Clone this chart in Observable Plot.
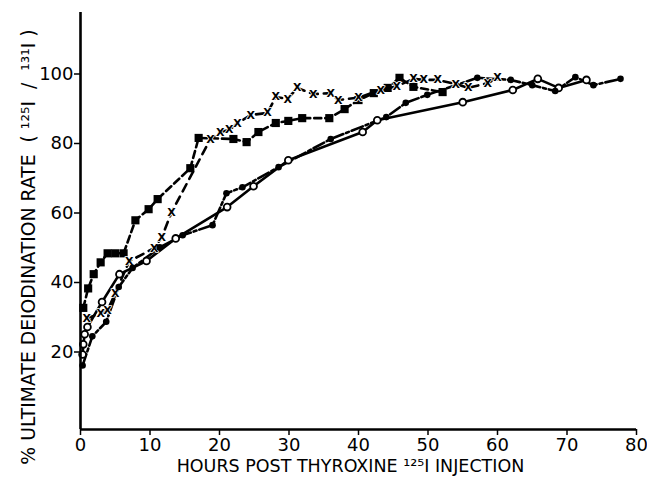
<!DOCTYPE html>
<html>
<head>
<meta charset="utf-8">
<script src="https://cdn.jsdelivr.net/npm/d3@7"></script>
<script src="https://cdn.jsdelivr.net/npm/@observablehq/plot@0.6"></script>
<style>
html,body{margin:0;padding:0;background:#fff;}
#chart{width:647px;height:481px;}
</style>
</head>
<body>
<div id="chart"></div>
<script>
// Filled squares series
const squareHours = [0.4, 1.1, 1.9, 2.9, 3.9, 5.0, 6.2, 7.9, 9.8, 11.1, 15.8, 17.0, 22.0, 23.9, 25.6, 28.1, 29.9, 31.9, 35.8, 38.0, 40.0, 42.2, 44.2, 45.9, 47.9, 52.1];
const squareRate  = [35.0, 40.6, 44.7, 48.1, 50.7, 50.7, 50.7, 60.2, 63.4, 66.3, 75.2, 83.9, 83.6, 82.7, 85.6, 88.2, 88.8, 89.6, 89.6, 92.2, 94.8, 96.8, 98.3, 101.2, 98.6, 97.1];
// X-marker series
const crossHours = [0.9, 2.9, 3.9, 5.0, 7.0, 10.6, 11.7, 13.1, 18.7, 20.1, 21.4, 22.6, 24.5, 26.9, 28.1, 29.8, 31.2, 33.5, 36.0, 37.1, 40.0, 43.2, 45.5, 47.9, 49.4, 51.4, 54.0, 55.8, 58.6, 60.0];
const crossRate  = [32.0, 33.4, 34.3, 39.2, 48.4, 52.2, 55.3, 62.5, 83.6, 85.6, 86.2, 88.2, 90.5, 91.1, 95.7, 95.1, 98.3, 96.5, 96.8, 94.8, 95.5, 97.7, 98.8, 100.9, 100.6, 100.6, 99.4, 98.3, 99.7, 101.2];
// Open circles series
const openHours = [0.3, 0.4, 0.6, 1.0, 3.1, 5.6, 9.5, 13.7, 21.1, 24.9, 29.9, 40.6, 42.7, 55.0, 62.2, 65.8, 68.8, 72.8];
const openRate  = [21.6, 24.5, 27.4, 29.5, 36.7, 44.7, 48.5, 55.0, 64.0, 70.0, 77.5, 85.6, 89.0, 94.2, 97.7, 100.9, 98.3, 100.6];
// Filled circles series
const dotHours = [0.3, 1.7, 3.7, 5.5, 7.5, 11.4, 14.7, 19.0, 21.0, 23.3, 28.5, 36.0, 44.0, 46.8, 49.9, 57.1, 61.9, 65.0, 68.3, 71.2, 73.8, 77.7];
const dotRate  = [18.4, 26.8, 31.0, 41.0, 46.5, 52.4, 55.9, 58.8, 68.0, 69.7, 75.5, 83.6, 89.9, 94.0, 96.3, 101.2, 100.6, 99.1, 97.4, 101.4, 99.1, 100.9];

const xTicks = [0, 10, 20, 30, 40, 50, 60, 70, 80];
const yTicks = [20, 40, 60, 80, 100];
const xTitle = "HOURS POST THYROXINE ¹²⁵I INJECTION";
const yTitle = "% ULTIMATE DEIODINATION RATE\u00a0\u00a0( ¹²⁵I\u00a0\u00a0/\u00a0\u00a0¹³¹I )";

const zip = (xs, ys) => xs.map((x, i) => ({x, y: ys[i]}));
const squares = zip(squareHours, squareRate);
const crosses = zip(crossHours, crossRate);
const opens = zip(openHours, openRate);
const dots = zip(dotHours, dotRate);

const font = "DejaVu Sans, sans-serif";

const plot = Plot.plot({
  width: 647,
  height: 481,
  marginLeft: 80,
  marginRight: 11,
  marginTop: 12,
  marginBottom: 52,
  style: {fontFamily: font, background: "#fff", color: "#000"},
  x: {domain: [0, 80]},
  y: {domain: [0, 120]},
  marks: [
    Plot.line(squares, {x: "x", y: "y", stroke: "#000", strokeWidth: 2.6, strokeDasharray: "7,4"}),
    Plot.line(crosses, {x: "x", y: "y", stroke: "#000", strokeWidth: 2.6, strokeDasharray: "8,6"}),
    Plot.line(opens, {x: "x", y: "y", stroke: "#000", strokeWidth: 2.6}),
    Plot.line(dots, {x: "x", y: "y", stroke: "#000", strokeWidth: 2.6, strokeDasharray: "12,3,3,3"}),
    Plot.dot(squares, {x: "x", y: "y", symbol: "square", r: 4.6, fill: "#000"}),
    Plot.text(crosses, {x: "x", y: "y", text: () => "X", fontSize: 11, fontWeight: "bold", fill: "#000", stroke: "#fff", strokeWidth: 1.5, paintOrder: "stroke"}),
    Plot.dot(opens, {x: "x", y: "y", r: 3.4, fill: "#fff", stroke: "#000", strokeWidth: 1.8}),
    Plot.dot(dots, {x: "x", y: "y", r: 3.3, fill: "#000"}),
    Plot.ruleX([0], {y1: 0, y2: 120, stroke: "#000", strokeWidth: 2.6}),
    Plot.ruleY([0], {x1: 0, x2: 80, stroke: "#000", strokeWidth: 2.6}),
    Plot.axisX({ticks: xTicks, tickSize: 6, tickPadding: 3, fontSize: 18, label: null, stroke: "#000", strokeWidth: 1.5}),
    Plot.axisY({ticks: yTicks, tickSize: 6, tickPadding: 1, dy: -8, fontSize: 18, label: null, stroke: "#000", strokeWidth: 1.5}),
    Plot.text([xTitle], {frameAnchor: "bottom", dx: -8, dy: 42, text: d => d, fontSize: 17.5, fill: "#000"}),
    Plot.text([yTitle], {frameAnchor: "left", textAnchor: "middle", dx: -52, dy: 26, rotate: -90, text: d => d, fontSize: 18.8, fill: "#000"})
  ]
});
document.getElementById("chart").appendChild(plot);
</script>
</body>
</html>
